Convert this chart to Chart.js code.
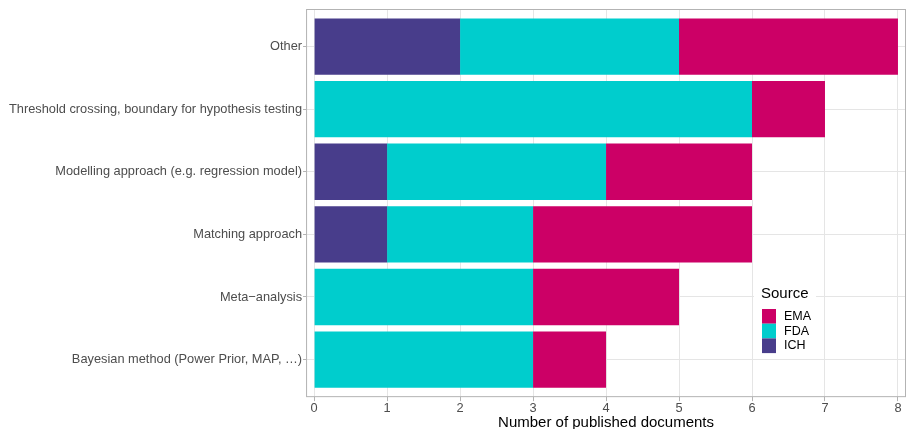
<!DOCTYPE html>
<html>
<head>
<meta charset="utf-8">
<script src="https://cdn.jsdelivr.net/npm/chart.js@4"></script>
<style>
  html, body { margin: 0; padding: 0; background: #fff; }
  #wrap { width: 906px; height: 429px; }
</style>
</head>
<body>
<div id="wrap"><canvas id="methodChart"></canvas></div>
<script>
// Categories, top to bottom
const categories = [
  'Other',
  'Threshold crossing, boundary for hypothesis testing',
  'Modelling approach (e.g. regression model)',
  'Matching approach',
  'Meta\u2212analysis',
  'Bayesian method (Power Prior, MAP, \u2026)'
];
// Document counts per source
const ichCounts = [2, 0, 1, 1, 0, 0];
const fdaCounts = [3, 6, 3, 2, 3, 3];
const emaCounts = [3, 1, 2, 3, 2, 1];
const xTicks = [0, 1, 2, 3, 4, 5, 6, 7, 8];

const colors = { EMA: '#CC0066', FDA: '#00CDCD', ICH: '#483D8B' };
const FONT = 'Liberation Sans, Arial, sans-serif';

const toPoints = arr => arr.map((v, i) => ({ x: v, y: i }));

// ggplot style legend sitting inside the panel
const legendInside = {
  id: 'legendInside',
  afterDraw(chart) {
    const c = chart.ctx;
    c.save();
    c.fillStyle = '#fff';
    c.fillRect(754, 284, 62, 74);
    c.fillStyle = '#000';
    c.font = '15px ' + FONT;
    c.textBaseline = 'middle';
    c.textAlign = 'left';
    c.fillText('Source', 761, 294);
    const items = ['EMA', 'FDA', 'ICH'];
    items.forEach((name, i) => {
      const y = 309 + i * 14.7;
      c.fillStyle = colors[name];
      c.fillRect(762, y, 14, 14.7);
      c.fillStyle = '#000';
      c.font = '12.5px ' + FONT;
      c.fillText(name, 784, y + 7.5);
    });
    c.restore();
  }
};

// full grey panel border
const panelBorder = {
  id: 'panelBorder',
  afterDatasetsDraw(chart) {
    const a = chart.chartArea;
    const c = chart.ctx;
    c.save();
    c.strokeStyle = '#b3b3b3';
    c.lineWidth = 1;
    c.strokeRect(a.left + 0.5, a.top + 0.5, a.right - a.left - 1, a.bottom - a.top - 1);
    c.restore();
  }
};

const ctx = document.getElementById('methodChart').getContext('2d');
const chart = new Chart(ctx, {
  type: 'bar',
  data: {
    datasets: [
      { label: 'ICH', data: toPoints(ichCounts), backgroundColor: colors.ICH },
      { label: 'FDA', data: toPoints(fdaCounts), backgroundColor: colors.FDA },
      { label: 'EMA', data: toPoints(emaCounts), backgroundColor: colors.EMA }
    ]
  },
  plugins: [panelBorder, legendInside],
  options: {
    indexAxis: 'y',
    responsive: true,
    maintainAspectRatio: false,
    animation: false,
    categoryPercentage: 1,
    barPercentage: 0.9,
    layout: { padding: { left: 8, top: 9, right: 0, bottom: 0 } },
    plugins: {
      legend: { display: false },
      tooltip: { enabled: false }
    },
    scales: {
      x: {
        type: 'linear',
        stacked: true,
        min: -0.11,
        max: 8.11,
        afterBuildTicks: s => { s.ticks = xTicks.map(v => ({ value: v })); },
        ticks: {
          color: '#4d4d4d',
          font: { family: FONT, size: 12.8, lineHeight: 1 },
          padding: 1,
          maxRotation: 0
        },
        grid: {
          color: '#e5e5e5',
          lineWidth: 1,
          drawTicks: true,
          tickLength: 4,
          tickColor: '#b3b3b3'
        },
        border: { display: false },
        title: {
          display: true,
          text: 'Number of published documents',
          color: '#000',
          font: { family: FONT, size: 15, lineHeight: 0.87 },
          padding: { top: 0, bottom: 0 }
        }
      },
      y: {
        type: 'linear',
        stacked: true,
        reverse: true,
        offset: false,
        min: -0.6,
        max: 5.6,
        afterBuildTicks: s => { s.ticks = categories.map((_, i) => ({ value: i })); },
        ticks: {
          color: '#4d4d4d',
          font: { family: FONT, size: 12.8 },
          padding: 1,
          callback: v => categories[v]
        },
        grid: {
          offset: false,
          color: '#e5e5e5',
          lineWidth: 1,
          drawTicks: true,
          tickLength: 3,
          tickColor: '#b3b3b3'
        },
        border: { display: false }
      }
    }
  }
});
</script>
</body>
</html>
